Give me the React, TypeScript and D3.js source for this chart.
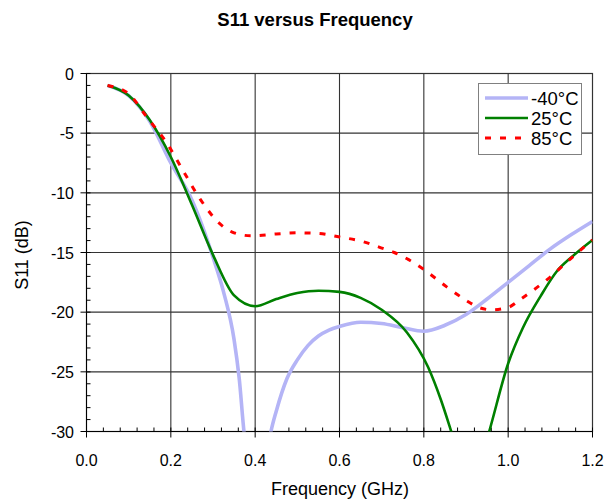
import * as d3 from 'd3';

// S11 (dB) vs frequency (GHz)
const coldFreq = [0.05, 0.1, 0.15, 0.2, 0.25, 0.3, 0.325, 0.35, 0.362, 0.375, 0.4, 0.425, 0.4375, 0.45, 0.475, 0.5, 0.525, 0.55, 0.575, 0.6, 0.65, 0.7, 0.75, 0.8, 0.85, 0.9, 0.95, 1.0, 1.05, 1.1, 1.15, 1.2];
const coldS11 = [-1.0, -1.85, -4.0, -7.5, -10.6, -15.4, -18.3, -22.3, -25.5, -30.5, -34, -32.5, -30.0, -28.3, -25.6, -24.0, -22.8, -22.0, -21.5, -21.2, -20.85, -20.95, -21.3, -21.6, -21.1, -20.2, -18.9, -17.5, -16.1, -14.7, -13.5, -12.4];

const roomFreq = [0.05, 0.1, 0.15, 0.2, 0.25, 0.3, 0.35, 0.4, 0.45, 0.5, 0.55, 0.6, 0.65, 0.7, 0.76, 0.81, 0.84, 0.865, 0.9, 0.93, 0.955, 1.0, 1.035, 1.077, 1.116, 1.15, 1.2];
const roomS11 = [-1.0, -1.84, -3.9, -7.0, -11.0, -15.2, -18.6, -19.5, -18.9, -18.4, -18.2, -18.3, -18.8, -19.8, -21.7, -24.6, -27.3, -30.0, -34, -33, -30.0, -24.3, -21.3, -18.65, -16.55, -15.4, -13.95];

const hotFreq = [0.05, 0.1, 0.144, 0.19, 0.23, 0.27, 0.318, 0.35, 0.39, 0.45, 0.5, 0.55, 0.6, 0.657, 0.694, 0.73, 0.764, 0.795, 0.855, 0.9, 0.93, 0.96, 1.0, 1.03, 1.093, 1.152, 1.2];
const hotS11 = [-1.0, -1.7, -3.7, -5.8, -8.2, -10.55, -12.65, -13.35, -13.6, -13.45, -13.35, -13.4, -13.7, -14.1, -14.55, -15.0, -15.6, -16.3, -17.9, -19.0, -19.6, -19.8, -19.6, -18.9, -17.25, -15.4, -13.95];

const xTicks = [0, 0.2, 0.4, 0.6, 0.8, 1.0, 1.2];
const yTicks = [0, -5, -10, -15, -20, -25, -30];

const series = [
  { label: '-40°C', freq: coldFreq, s11: coldS11, color: '#b4b4f6', width: 3.6, dash: '' },
  { label: '25°C', freq: roomFreq, s11: roomS11, color: '#008000', width: 2.6, dash: '' },
  { label: '85°C', freq: hotFreq, s11: hotS11, color: '#ff0000', width: 3, dash: '6,9' },
];

const W = 609;
const H = 501;
const left = 86.5;
const right = 592.5;
const top = 73.5;
const bottom = 431.5;
const font = '"Liberation Sans", Arial, sans-serif';

export default function App() {
  const x = d3.scaleLinear().domain([0, 1.2]).range([left, right]);
  const y = d3.scaleLinear().domain([0, -30]).range([top, bottom]);

  const line = d3.line<[number, number]>()
    .x(d => x(d[0]))
    .y(d => y(d[1]))
    .curve(d3.curveMonotoneX);

  const xMinor = d3.range(0, 1.2001, 0.04);
  const yMinor = d3.range(0, -30.001, -1);

  return (
    <svg width={W} height={H} style={{ position: 'absolute', left: 0, top: 0, fontFamily: font }}>
      <rect width={W} height={H} fill="#fff" />
      <defs>
        <clipPath id="plot">
          <rect x={left} y={top} width={right - left} height={bottom - top} />
        </clipPath>
      </defs>

      <text x={315} y={26} textAnchor="middle" fontSize={18.5} fontWeight="bold" fill="#000">
        S11 versus Frequency
      </text>

      {/* grid */}
      {xTicks.slice(1, -1).map(t => (
        <line key={'gx' + t} x1={x(t)} x2={x(t)} y1={top} y2={bottom} stroke="#333" strokeWidth={1.1} />
      ))}
      {yTicks.slice(1, -1).map(t => (
        <line key={'gy' + t} x1={left} x2={right} y1={y(t)} y2={y(t)} stroke="#333" strokeWidth={1.1} />
      ))}
      <rect x={left} y={top} width={right - left} height={bottom - top} fill="none" stroke="#333" strokeWidth={1.2} />

      {/* minor ticks */}
      {xMinor.map(t => (
        <line key={'mx' + t} x1={x(t)} x2={x(t)} y1={bottom} y2={bottom - 4} stroke="#000" />
      ))}
      {yMinor.map(t => (
        <line key={'my' + t} x1={left} x2={left + 4} y1={y(t)} y2={y(t)} stroke="#000" />
      ))}
      {/* major ticks */}
      {xTicks.map(t => (
        <line key={'tx' + t} x1={x(t)} x2={x(t)} y1={bottom} y2={bottom + 6} stroke="#000" />
      ))}
      {yTicks.map(t => (
        <line key={'ty' + t} x1={left - 6} x2={left} y1={y(t)} y2={y(t)} stroke="#000" />
      ))}
      <line x1={left} x2={left} y1={top} y2={bottom} stroke="#000" />
      <line x1={left} x2={right} y1={bottom} y2={bottom} stroke="#000" />

      {/* data */}
      <g clipPath="url(#plot)">
        {series.map(s => (
          <path
            key={s.label}
            d={line(s.freq.map((f, i) => [f, s.s11[i]] as [number, number])) || ''}
            fill="none"
            stroke={s.color}
            strokeWidth={s.width}
            strokeDasharray={s.dash || undefined}
          />
        ))}
      </g>

      {/* tick labels */}
      {xTicks.map(t => (
        <text key={'lx' + t} x={x(t)} y={466} textAnchor="middle" fontSize={16} fill="#000">
          {t.toFixed(1)}
        </text>
      ))}
      {yTicks.map(t => (
        <text key={'ly' + t} x={74} y={y(t) + 6} textAnchor="end" fontSize={16} fill="#000">
          {t}
        </text>
      ))}

      <text x={340} y={495} textAnchor="middle" fontSize={18} fill="#000">Frequency (GHz)</text>
      <text transform="translate(28,255) rotate(-90)" textAnchor="middle" fontSize={18} fill="#000">S11 (dB)</text>

      {/* legend */}
      <rect x={478.5} y={83.5} width={103} height={71} fill="#fff" stroke="#808080" strokeWidth={1} />
      {series.map((s, i) => (
        <g key={'lg' + s.label} transform={`translate(485,${98 + i * 20})`}>
          <line x1={0} x2={43} y1={0} y2={0} stroke={s.color} strokeWidth={s.width} strokeDasharray={s.dash || undefined} />
          <text x={46} y={6.5} fontSize={18.5} fill="#000">{s.label}</text>
        </g>
      ))}
    </svg>
  );
}
